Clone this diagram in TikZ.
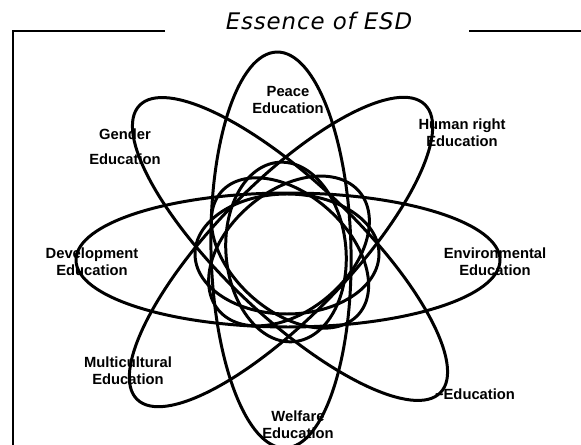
\documentclass[tikz,border=0pt]{standalone}
\usepackage{fontspec}
\setmainfont{Liberation Sans}
\newfontfamily\titlefont[LetterSpace=4]{DejaVu Sans}

\tikzset{
  petal/.style={line width=1.7pt},
  ring/.style={line width=1.7pt},
  frameline/.style={line width=1.1pt},
  topic/.style={font=\fontsize{8.4}{9.6}\selectfont\bfseries, align=center, inner sep=0pt},
}

\begin{document}
\begin{tikzpicture}[x=0.02cm, y=-0.02cm]
\useasboundingbox (0,0) rectangle (581,445);

% frame and title
\draw   [frameline]   (165,31) -- (13,31) -- (13,445);
\draw   [frameline]   (469,31) -- (581,31);
\node  [anchor=base]  (title)  at  (319,30) {\titlefont\itshape\fontsize{13}{15}\selectfont Essence of ESD};

% big ellipses
\draw   [petal]   (288,260) ellipse (212 and 67);
\draw   [petal, rotate around={1.2:(281,250)}]   (281,250) ellipse (70 and 198);
\draw   [petal, rotate around={-43.6:(290,249)}]   (290,249) ellipse (208 and 67);
\draw   [petal, rotate around={45.7:(281,252)}]   (281,252) ellipse (206 and 67);

% small ellipses
\draw   [ring]   (287,254) ellipse (92 and 60);
\draw   [ring, rotate around={40:(289,251)}]   (289,251) ellipse (92 and 60);
\draw   [ring, rotate around={95:(286,252)}]   (286,252) ellipse (90 and 60);
\draw   [ring, rotate around={138:(290,253)}]   (290,253) ellipse (92 and 58);

% -------- labels -----------
\node  [topic]  (peace)  at  (288,100) {Peace\\Education};
\node  [topic]  (gender)  at  (125,147) {Gender\\[4.4pt]Education};
\node  [topic]  (humanright)  at  (462,133) {Human right\\Education};
\node  [topic]  (development)  at  (92,262) {Development\\Education};
\node  [topic]  (environmental)  at  (495,262) {Environmental\\Education};
\node  [topic]  (multicultural)  at  (128,371) {Multicultural\\Education};
\node  [topic]  (welfare)  at  (298,425) {Welfare\\Education};
\node  [topic]  (other)  at  (475,394) {\textasciitilde Education};
\end{tikzpicture}
\end{document}
